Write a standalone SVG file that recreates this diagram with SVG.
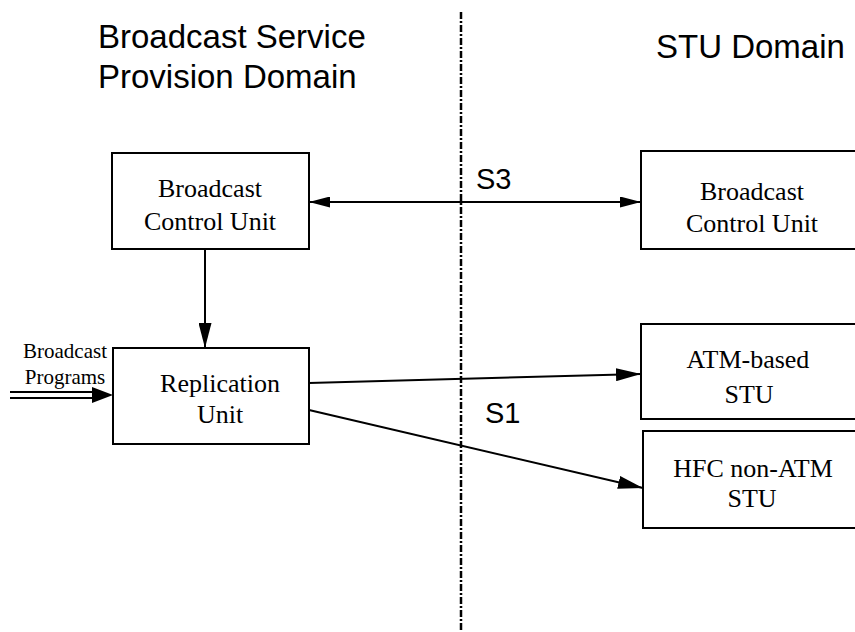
<svg xmlns="http://www.w3.org/2000/svg" width="855" height="632" viewBox="0 0 855 632">
<style>
.box{fill:#fff;stroke:#000;stroke-width:2}
.t{font-family:"Liberation Serif","Times New Roman",serif;font-size:26px;fill:#000;text-anchor:middle}
.h{font-family:"Liberation Sans",Arial,sans-serif;font-size:33px;fill:#000}
.s{font-family:"Liberation Sans",Arial,sans-serif;font-size:29px;fill:#000}
.ln{stroke:#000;stroke-width:2;fill:none}
</style>
<defs>
<marker id="ah" viewBox="0 0 25 13" refX="25" refY="6.5" markerWidth="25" markerHeight="13" markerUnits="userSpaceOnUse" orient="auto-start-reverse">
<path d="M0,0 L25,6.5 L0,13 Z" fill="#000"/>
</marker>
<marker id="ah2" viewBox="0 0 21 11" refX="21" refY="5.5" markerWidth="21" markerHeight="11" markerUnits="userSpaceOnUse" orient="auto-start-reverse">
<path d="M0,0 L21,5.5 L0,11 Z" fill="#000"/>
</marker>
</defs>
<rect width="855" height="632" fill="#fff"/>
<line x1="461" y1="12" x2="461" y2="632" stroke="#000" stroke-width="2.5" stroke-dasharray="7 2 2 2"/>
<text class="h" x="98" y="48">Broadcast Service</text>
<text class="h" x="98" y="88">Provision Domain</text>
<text class="h" x="656" y="58">STU Domain</text>
<g id="bcu-left">
<rect class="box" x="112" y="153" width="197" height="96"/>
<text class="t" x="210" y="197">Broadcast</text>
<text class="t" x="210" y="230">Control Unit</text>
</g>
<g id="bcu-right">
<rect class="box" x="641" y="151" width="230" height="98"/>
<text class="t" x="752" y="200">Broadcast</text>
<text class="t" x="752" y="232">Control Unit</text>
</g>
<g id="replication">
<rect class="box" x="113" y="348" width="196" height="96"/>
<text class="t" x="220" y="392">Replication</text>
<text class="t" x="220" y="423">Unit</text>
</g>
<g id="atm-stu">
<rect class="box" x="641" y="324" width="230" height="95"/>
<text class="t" x="748" y="368">ATM-based</text>
<text class="t" x="749" y="403">STU</text>
</g>
<g id="hfc-stu">
<rect class="box" x="643" y="431" width="230" height="97"/>
<text class="t" x="753" y="477">HFC non-ATM</text>
<text class="t" x="752" y="507">STU</text>
</g>
<g id="programs-label">
<text class="t" x="65" y="358" style="font-size:21px">Broadcast</text>
<text class="t" x="65" y="384" style="font-size:21px">Programs</text>
</g>
<g id="connectors">
<line class="ln" x1="309" y1="202" x2="641" y2="202" marker-start="url(#ah2)" marker-end="url(#ah2)"/>
<line class="ln" x1="205" y1="249" x2="205" y2="348" marker-end="url(#ah)"/>
<line class="ln" x1="309" y1="383" x2="641" y2="374" marker-end="url(#ah)"/>
<line class="ln" x1="309" y1="410" x2="643" y2="488" marker-end="url(#ah)"/>
<line class="ln" x1="10" y1="392" x2="100" y2="392"/>
<line class="ln" x1="10" y1="398" x2="100" y2="398"/>
<path d="M92,387 L113,395 L92,403 Z" fill="#000"/>
<text class="s" x="476" y="189">S3</text>
<text class="s" x="485" y="423">S1</text>
</g>
</svg>
